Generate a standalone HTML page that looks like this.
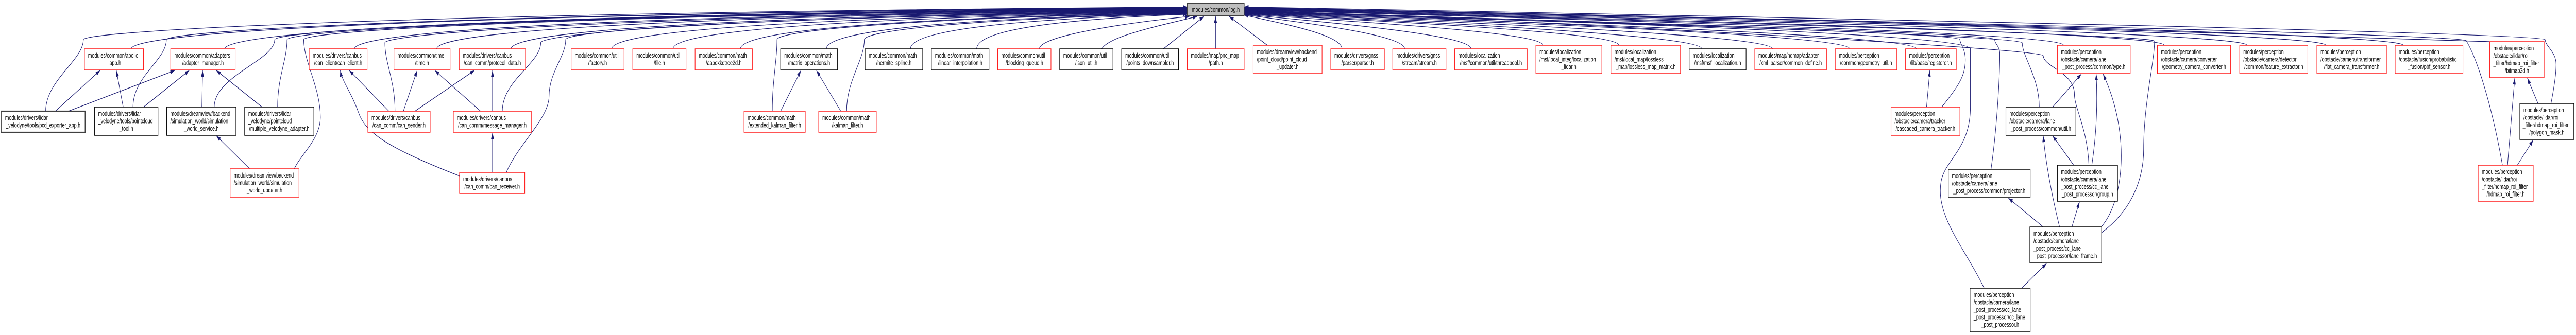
<!DOCTYPE html>
<html><head><meta charset="utf-8"><style>
html,body{margin:0;padding:0;background:#fff;width:100%;height:100%;overflow:hidden;}
svg{display:block;position:absolute;left:0;top:0;width:100vw;height:100vh;}
text{font-family:"Liberation Sans",Arial,sans-serif;font-size:12.8px;fill:#000;}
.r{fill:#fff;stroke:#ff1a1a;stroke-width:1.5;}
.b{fill:#fff;stroke:#000;stroke-width:1.5;}
.e{fill:none;stroke:#191970;stroke-width:1.3;}
</style></head><body>
<svg viewBox="0 0 7108 651" preserveAspectRatio="none" xmlns="http://www.w3.org/2000/svg">
<defs><marker id="a" viewBox="0 0 12 8" refX="12" refY="4" markerWidth="12" markerHeight="8" markerUnits="userSpaceOnUse" orient="auto"><path d="M0,0 L12,4 L0,8z" fill="#191970"/></marker></defs>
<g class="e" marker-end="url(#a)">
<path d="M126,216 C126,156 230,117 230,77 C230,62 992,25.7 3276,13.7"/>
<path d="M367,208 C367,148 459,117 459,77 C459,62 1163,26.4 3276,14.4"/>
<path d="M362,95 C362,65 1091,27.1 3276,15.1"/>
<path d="M620,95 C620,65 1284,27.8 3276,15.8"/>
<path d="M591,208 C591,148 758,117 758,77 C758,62 1388,28.5 3276,16.5"/>
<path d="M766,208 C766,148 792,117 792,77 C792,62 1413,29.2 3276,17.2"/>
<path d="M812,328 C830,300 884,270 884,228 C884,170 838,120 838,77 C838,62 1448,29.9 3276,17.9"/>
<path d="M978,95 C978,65 1553,30.6 3276,18.6"/>
<path d="M1090,216 C1090,156 1062,123 1062,83 C1062,68 1616,31.3 3276,19.3"/>
<path d="M1205,95 C1205,65 1723,32 3276,20"/>
<path d="M1410,95 C1410,65 1877,32.7 3276,20.7"/>
<path d="M1386,216 C1386,156 1492,123 1492,83 C1492,68 1938,33.4 3276,21.4"/>
<path d="M1397,335 C1430,280 1515,230 1515,187 C1515,140 1561,110 1561,77 C1561,62 1990,34.1 3276,22.1"/>
<path d="M1688,95 C1688,65 2085,34.8 3276,22.8"/>
<path d="M1857,95 C1857,65 2212,35.5 3276,23.5"/>
<path d="M2043,95 C2043,65 2351,36.2 3276,24.2"/>
<path d="M2131,216 C2131,156 2144,117 2144,77 C2144,62 2427,36.9 3276,24.9"/>
<path d="M2280,95 C2280,65 2529,37.6 3276,25.6"/>
<path d="M2336,216 C2336,156 2385,117 2385,77 C2385,62 2608,38.3 3276,26.3"/>
<path d="M2512,95 C2512,65 2703,39 3276,27"/>
<path d="M2695,95 C2695,65 2840,39.7 3276,27.7"/>
<path d="M2868,95 C2868,70 3100,45 3282,32"/>
<path d="M3040,95 C3060,70 3200,50 3303,32"/>
<path d="M3210,95 L3322,32"/>
<path d="M3354,95 L3354,32"/>
<path d="M3497,88 L3392,32"/>
<path d="M3703,95 C3703,65 3500,41 3433,29"/>
<path d="M3876,95 C3876,65 3544,40.3 3433,28.3"/>
<path d="M4059,95 C4059,65 3590,39.6 3433,27.6"/>
<path d="M4257,88 C4257,60 3639,38.9 3433,26.9"/>
<path d="M4467,88 C4467,60 3692,38.2 3433,26.2"/>
<path d="M4696,95 C4696,65 3749,37.5 3433,25.5"/>
<path d="M4891,95 C4891,65 3798,36.8 3433,24.8"/>
<path d="M5104,95 C5104,65 3851,36.1 3433,24.1"/>
<path d="M5288,95 C5288,65 3897,35.4 3433,23.4"/>
<path d="M5358,208 C5400,170 5423,150 5423,116 C5423,95 5408,85 5408,77 C5408,62 3927,34.7 3433,22.7"/>
<path d="M5475,560 C5420,480 5340,420 5356,353 C5366,310 5437,290 5437,208 L5437,95 C5437,62 3934,34 3433,22"/>
<path d="M5494,328 C5510,250 5518,150 5518,104 C5518,90 5504,85 5504,77 C5504,62 3951,33.3 3433,21.3"/>
<path d="M5627,208 C5627,150 5580,110 5580,83 C5580,68 3970,32.6 3433,20.6"/>
<path d="M5764,321 C5760,250 5724,210 5724,183 C5724,140 5638,130 5638,108 C5638,93 3984,31.9 3433,19.9"/>
<path d="M5694,88 C5694,60 3998,31.2 3433,19.2"/>
<path d="M5799,452 C5880,410 5915,350 5915,290 C5915,200 5945,120 5945,80 C5945,65 4061,30.5 3433,18.5"/>
<path d="M5972,88 C5972,60 4068,29.8 3433,17.8"/>
<path d="M6200,88 C6200,60 4125,29.1 3433,17.1"/>
<path d="M6418,88 C6418,60 4179,28.4 3433,16.4"/>
<path d="M6631,88 C6631,60 4232,27.7 3433,15.7"/>
<path d="M6905,321 C6880,220 6840,120 6805,79 C6790,65 4301,27 3433,15"/>
<path d="M6870,81 C6850,70 4292,26.3 3433,14.3"/>
<path d="M7039,201 C7050,160 7053,140 7053,125 C7053,100 7023,90 7023,77 C7023,62 4330,25.6 3433,13.6"/>
<path d="M153,216 L276,137"/>
<path d="M189,216 L482,137"/>
<path d="M340,208 L321,137"/>
<path d="M396,208 L522,137"/>
<path d="M557,208 L559,137"/>
<path d="M723,208 L597,137"/>
<path d="M689,328 L597,264"/>
<path d="M1073,216 L964,137"/>
<path d="M1113,216 L1151,137"/>
<path d="M1145,216 L1309,137"/>
<path d="M1326,216 L1200,137"/>
<path d="M1359,216 L1359,137"/>
<path d="M1359,335 L1359,258"/>
<path d="M1268,342 C1080,290 1010,260 990,220 C970,180 945,160 939,137"/>
<path d="M2154,216 L2210,137"/>
<path d="M2320,216 L2253,137"/>
<path d="M5316,208 L5325,137"/>
<path d="M5664,208 L5743,144"/>
<path d="M5722,321 L5664,264"/>
<path d="M5772,321 C5785,260 5788,200 5784,144"/>
<path d="M5638,441 L5542,385"/>
<path d="M5683,441 C5665,390 5645,320 5638,264"/>
<path d="M5717,441 L5738,392"/>
<path d="M5799,440 C5860,390 5880,260 5803,144"/>
<path d="M5578,560 L5647,512"/>
<path d="M7003,201 L6974,152"/>
<path d="M6919,321 L6939,152"/>
<path d="M6946,321 L6990,272"/>
</g>

<rect x="3276" y="6" width="157" height="25" fill="#bfbfbf" stroke="#404040" stroke-width="2"/>
<text x="3354.5" y="23" text-anchor="middle">modules/common/log.h</text>

<rect class="r" x="233" y="95" width="163" height="41"/><text x="243" y="112">modules/common/apollo</text><text x="314.5" y="126.5" text-anchor="middle">_app.h</text>
<rect class="r" x="471" y="95" width="178" height="41"/><text x="481" y="112">modules/common/adapters</text><text x="560" y="126.5" text-anchor="middle">/adapter_manager.h</text>
<rect class="r" x="853" y="95" width="160" height="41"/><text x="863" y="112">modules/drivers/canbus</text><text x="933" y="126.5" text-anchor="middle">/can_client/can_client.h</text>
<rect class="r" x="1087" y="95" width="155" height="41"/><text x="1097" y="112">modules/common/time</text><text x="1164.5" y="126.5" text-anchor="middle">/time.h</text>
<rect class="r" x="1267" y="95" width="183" height="41"/><text x="1277" y="112">modules/drivers/canbus</text><text x="1358.5" y="126.5" text-anchor="middle">/can_comm/protocol_data.h</text>
<rect class="r" x="1576" y="95" width="146" height="41"/><text x="1586" y="112">modules/common/util</text><text x="1649" y="126.5" text-anchor="middle">/factory.h</text>
<rect class="r" x="1746" y="95" width="147" height="41"/><text x="1756" y="112">modules/common/util</text><text x="1819.5" y="126.5" text-anchor="middle">/file.h</text>
<rect class="r" x="1918" y="95" width="158" height="41"/><text x="1928" y="112">modules/common/math</text><text x="1997" y="126.5" text-anchor="middle">/aaboxkdtree2d.h</text>
<rect class="b" x="2154" y="95" width="157" height="41"/><text x="2164" y="112">modules/common/math</text><text x="2232.5" y="126.5" text-anchor="middle">/matrix_operations.h</text>
<rect class="b" x="2387" y="95" width="159" height="41"/><text x="2397" y="112">modules/common/math</text><text x="2466.5" y="126.5" text-anchor="middle">/hermite_spline.h</text>
<rect class="b" x="2570" y="95" width="159" height="41"/><text x="2580" y="112">modules/common/math</text><text x="2649.5" y="126.5" text-anchor="middle">/linear_interpolation.h</text>
<rect class="r" x="2753" y="95" width="147" height="41"/><text x="2763" y="112">modules/common/util</text><text x="2826.5" y="126.5" text-anchor="middle">/blocking_queue.h</text>
<rect class="b" x="2924" y="95" width="147" height="41"/><text x="2934" y="112">modules/common/util</text><text x="2997.5" y="126.5" text-anchor="middle">/json_util.h</text>
<rect class="b" x="3095" y="95" width="157" height="41"/><text x="3105" y="112">modules/common/util</text><text x="3173.5" y="126.5" text-anchor="middle">/points_downsampler.h</text>
<rect class="r" x="3276" y="95" width="157" height="41"/><text x="3286" y="112">modules/map/pnc_map</text><text x="3354.5" y="126.5" text-anchor="middle">/path.h</text>
<rect class="r" x="3458" y="88" width="190" height="55"/><text x="3468" y="105">modules/dreamview/backend</text><text x="3468" y="119.5">/point_cloud/point_cloud</text><text x="3553" y="134" text-anchor="middle">_updater.h</text>
<rect class="r" x="3672" y="95" width="148" height="41"/><text x="3682" y="112">modules/drivers/gnss</text><text x="3746" y="126.5" text-anchor="middle">/parser/parser.h</text>
<rect class="r" x="3843" y="95" width="147" height="41"/><text x="3853" y="112">modules/drivers/gnss</text><text x="3916.5" y="126.5" text-anchor="middle">/stream/stream.h</text>
<rect class="r" x="4014" y="95" width="200" height="41"/><text x="4024" y="112">modules/localization</text><text x="4114" y="126.5" text-anchor="middle">/msf/common/util/threadpool.h</text>
<rect class="r" x="4238" y="88" width="182" height="55"/><text x="4248" y="105">modules/localization</text><text x="4248" y="119.5">/msf/local_integ/localization</text><text x="4329" y="134" text-anchor="middle">_lidar.h</text>
<rect class="r" x="4445" y="88" width="192" height="55"/><text x="4455" y="105">modules/localization</text><text x="4455" y="119.5">/msf/local_map/lossless</text><text x="4541" y="134" text-anchor="middle">_map/lossless_map_matrix.h</text>
<rect class="b" x="4661" y="95" width="157" height="41"/><text x="4671" y="112">modules/localization</text><text x="4739.5" y="126.5" text-anchor="middle">/msf/msf_localization.h</text>
<rect class="r" x="4842" y="95" width="198" height="41"/><text x="4852" y="112">modules/map/hdmap/adapter</text><text x="4941" y="126.5" text-anchor="middle">/xml_parser/common_define.h</text>
<rect class="r" x="5064" y="95" width="170" height="41"/><text x="5074" y="112">modules/perception</text><text x="5149" y="126.5" text-anchor="middle">/common/geometry_util.h</text>
<rect class="r" x="5258" y="95" width="140" height="41"/><text x="5268" y="112">modules/perception</text><text x="5328" y="126.5" text-anchor="middle">/lib/base/registerer.h</text>
<rect class="r" x="5677" y="88" width="201" height="55"/><text x="5687" y="105">modules/perception</text><text x="5687" y="119.5">/obstacle/camera/lane</text><text x="5777.5" y="134" text-anchor="middle">_post_process/common/type.h</text>
<rect class="r" x="5953" y="88" width="202" height="55"/><text x="5963" y="105">modules/perception</text><text x="5963" y="119.5">/obstacle/camera/converter</text><text x="6054" y="134" text-anchor="middle">/geometry_camera_converter.h</text>
<rect class="r" x="6180" y="88" width="188" height="55"/><text x="6190" y="105">modules/perception</text><text x="6190" y="119.5">/obstacle/camera/detector</text><text x="6274" y="134" text-anchor="middle">/common/feature_extractor.h</text>
<rect class="r" x="6393" y="88" width="192" height="55"/><text x="6403" y="105">modules/perception</text><text x="6403" y="119.5">/obstacle/camera/transformer</text><text x="6489" y="134" text-anchor="middle">/flat_camera_transformer.h</text>
<rect class="r" x="6609" y="88" width="187" height="55"/><text x="6619" y="105">modules/perception</text><text x="6619" y="119.5">/obstacle/fusion/probabilistic</text><text x="6702.5" y="134" text-anchor="middle">_fusion/pbf_sensor.h</text>
<rect class="r" x="6870" y="81" width="150" height="70"/><text x="6880" y="98">modules/perception</text><text x="6880" y="112.5">/obstacle/lidar/roi</text><text x="6880" y="127">_filter/hdmap_roi_filter</text><text x="6945" y="141.5" text-anchor="middle">/bitmap2d.h</text>

<rect x="3" y="216" width="232" height="41" fill="#fff" stroke="#404040" stroke-width="2.2"/><text x="14" y="233">modules/drivers/lidar</text><text x="119" y="247.5" text-anchor="middle">_velodyne/tools/pcd_exporter_app.h</text>
<rect class="b" x="261" y="208" width="175" height="55"/><text x="271" y="225">modules/drivers/lidar</text><text x="271" y="239.5">_velodyne/tools/pointcloud</text><text x="348.5" y="254" text-anchor="middle">_tool.h</text>
<rect class="b" x="460" y="208" width="191" height="55"/><text x="470" y="225">modules/dreamview/backend</text><text x="470" y="239.5">/simulation_world/simulation</text><text x="555.5" y="254" text-anchor="middle">_world_service.h</text>
<rect class="b" x="675" y="208" width="191" height="55"/><text x="685" y="225">modules/drivers/lidar</text><text x="685" y="239.5">_velodyne/pointcloud</text><text x="770.5" y="254" text-anchor="middle">/multiple_velodyne_adapter.h</text>
<rect class="r" x="1015" y="216" width="172" height="41"/><text x="1025" y="233">modules/drivers/canbus</text><text x="1101" y="247.5" text-anchor="middle">/can_comm/can_sender.h</text>
<rect class="r" x="1251" y="216" width="215" height="41"/><text x="1261" y="233">modules/drivers/canbus</text><text x="1358.5" y="247.5" text-anchor="middle">/can_comm/message_manager.h</text>
<rect class="r" x="2053" y="216" width="169" height="41"/><text x="2063" y="233">modules/common/math</text><text x="2137.5" y="247.5" text-anchor="middle">/extended_kalman_filter.h</text>
<rect class="r" x="2259" y="216" width="159" height="41"/><text x="2269" y="233">modules/common/math</text><text x="2338.5" y="247.5" text-anchor="middle">/kalman_filter.h</text>
<rect class="r" x="5218" y="208" width="190" height="55"/><text x="5228" y="225">modules/perception</text><text x="5228" y="239.5">/obstacle/camera/tracker</text><text x="5313" y="254" text-anchor="middle">/cascaded_camera_tracker.h</text>
<rect class="b" x="5535" y="208" width="193" height="55"/><text x="5545" y="225">modules/perception</text><text x="5545" y="239.5">/obstacle/camera/lane</text><text x="5631.5" y="254" text-anchor="middle">_post_process/common/util.h</text>
<rect class="b" x="6953" y="201" width="149" height="70"/><text x="6963" y="218">modules/perception</text><text x="6963" y="232.5">/obstacle/lidar/roi</text><text x="6961" y="247">_filter/hdmap_roi_filter</text><text x="7027.5" y="261.5" text-anchor="middle">/polygon_mask.h</text>

<rect class="r" x="635" y="328" width="190" height="55"/><text x="645" y="345">modules/dreamview/backend</text><text x="645" y="359.5">/simulation_world/simulation</text><text x="730" y="374" text-anchor="middle">_world_updater.h</text>
<rect class="r" x="1268" y="335" width="180" height="41"/><text x="1278" y="352">modules/drivers/canbus</text><text x="1358" y="366.5" text-anchor="middle">/can_comm/can_receiver.h</text>
<rect class="b" x="5376" y="329" width="226" height="55"/><text x="5386" y="346">modules/perception</text><text x="5386" y="360.5">/obstacle/camera/lane</text><text x="5489" y="375" text-anchor="middle">_post_process/common/projector.h</text>
<rect class="b" x="5677" y="321" width="166" height="70"/><text x="5687" y="338">modules/perception</text><text x="5687" y="352.5">/obstacle/camera/lane</text><text x="5687" y="367">_post_process/cc_lane</text><text x="5760" y="381.5" text-anchor="middle">_post_processor/group.h</text>
<rect class="r" x="6838" y="321" width="152" height="70"/><text x="6848" y="338">modules/perception</text><text x="6848" y="352.5">/obstacle/lidar/roi</text><text x="6848" y="367">_filter/hdmap_roi_filter</text><text x="6914" y="381.5" text-anchor="middle">/hdmap_roi_filter.h</text>

<rect class="b" x="5601" y="441" width="198" height="70"/><text x="5611" y="458">modules/perception</text><text x="5611" y="472.5">/obstacle/camera/lane</text><text x="5611" y="487">_post_process/cc_lane</text><text x="5700" y="501.5" text-anchor="middle">_post_processor/lane_frame.h</text>
<rect class="b" x="5436" y="560" width="166" height="85"/><text x="5446" y="577">modules/perception</text><text x="5446" y="591.5">/obstacle/camera/lane</text><text x="5446" y="606">_post_process/cc_lane</text><text x="5446" y="620.5">_post_processor/cc_lane</text><text x="5519" y="635" text-anchor="middle">_post_processor.h</text>
</svg>
</body></html>
